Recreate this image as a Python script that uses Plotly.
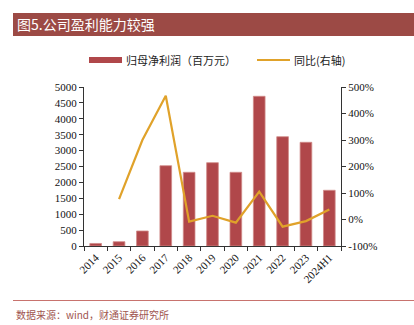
import plotly.graph_objects as go

categories = ["2014", "2015", "2016", "2017", "2018", "2019", "2020", "2021", "2022", "2023", "2024H1"]
net_profit = [80, 135, 472, 2525, 2318, 2620, 2318, 4708, 3437, 3261, 1752]
yoy_pct = [None, 77, 300, 467, -8, 14, -12, 105, -27, -6, 38]
left_ticks = list(range(0, 5001, 500))
right_ticks = list(range(-100, 501, 100))

W, H = 414, 325
L, R, T, B = 84, 73, 87, 79
pw, ph = W - L - R, H - T - B

def px(x):
    return (x - L) / pw

def py(y):
    return (H - B - y) / ph

BAR = "#B0474A"
LINE = "#E0A22A"
SERIF = "Liberation Serif, Times New Roman, serif"
CJK = "Noto Sans CJK SC"

fig = go.Figure()
fig.add_trace(go.Bar(x=categories, y=net_profit, name="归母净利润（百万元）",
                     marker=dict(color=BAR, line=dict(color="#D08A88", width=0.8)),
                     width=0.5, yaxis="y"))
fig.add_trace(go.Scatter(x=categories, y=yoy_pct, name="同比(右轴)", mode="lines",
                         line=dict(color=LINE, width=2.2), yaxis="y2"))

shapes = [
    dict(type="rect", xref="paper", yref="paper", x0=px(13), x1=px(414), y0=py(13), y1=py(36),
         fillcolor="#9C4A45", line=dict(width=0), layer="below"),
    dict(type="line", xref="paper", yref="paper", x0=px(13), x1=px(414), y0=py(300.5), y1=py(300.5),
         line=dict(color="#C8736E", width=1)),
    dict(type="rect", xref="paper", yref="paper", x0=px(89), x1=px(122), y0=py(57), y1=py(63),
         fillcolor=BAR, line=dict(width=0)),
    dict(type="line", xref="paper", yref="paper", x0=px(257), x1=px(290), y0=py(60), y1=py(60),
         line=dict(color=LINE, width=2)),
]
annotations = [
    dict(text="图5.公司盈利能力较强", xref="paper", yref="paper", x=px(15), y=py(24.5),
         xanchor="left", yanchor="middle", showarrow=False,
         font=dict(family=CJK, size=14, color="white")),
    dict(text="归母净利润（百万元）", xref="paper", yref="paper", x=px(124), y=py(60),
         xanchor="left", yanchor="middle", showarrow=False,
         font=dict(family=CJK, size=11, color="#222")),
    dict(text="同比(右轴)", xref="paper", yref="paper", x=px(292), y=py(60),
         xanchor="left", yanchor="middle", showarrow=False,
         font=dict(family=CJK, size=11, color="#222")),
    dict(text="数据来源：wind，财通证券研究所", xref="paper", yref="paper", x=px(14), y=py(314),
         xanchor="left", yanchor="middle", showarrow=False,
         font=dict(family=CJK, size=10, color="#A0554F")),
]

fig.update_layout(
    width=W, height=H, margin=dict(l=L, r=R, t=T, b=B),
    paper_bgcolor="white", plot_bgcolor="white", showlegend=False,
    shapes=shapes, annotations=annotations,
    xaxis=dict(type="category", tickangle=-45, showline=True, linecolor="#333", linewidth=1,
               ticks="outside", ticklen=4, tickcolor="#333", tickson="boundaries",
               tickfont=dict(family=SERIF, size=11, color="#111"), showgrid=False),
    yaxis=dict(range=[0, 5000], tickvals=left_ticks, showline=True, linecolor="#333", linewidth=1,
               ticks="outside", ticklen=4, tickcolor="#333", showgrid=False, zeroline=False,
               tickfont=dict(family=SERIF, size=11, color="#111")),
    yaxis2=dict(range=[-100, 500], tickvals=right_ticks, ticktext=[f"{v}%" for v in right_ticks],
                overlaying="y", side="right", showline=True, linecolor="#333", linewidth=1,
                ticks="outside", ticklen=4, tickcolor="#333", showgrid=False, zeroline=False,
                tickfont=dict(family=SERIF, size=11, color="#111")),
)

fig.write_html("out.html")
